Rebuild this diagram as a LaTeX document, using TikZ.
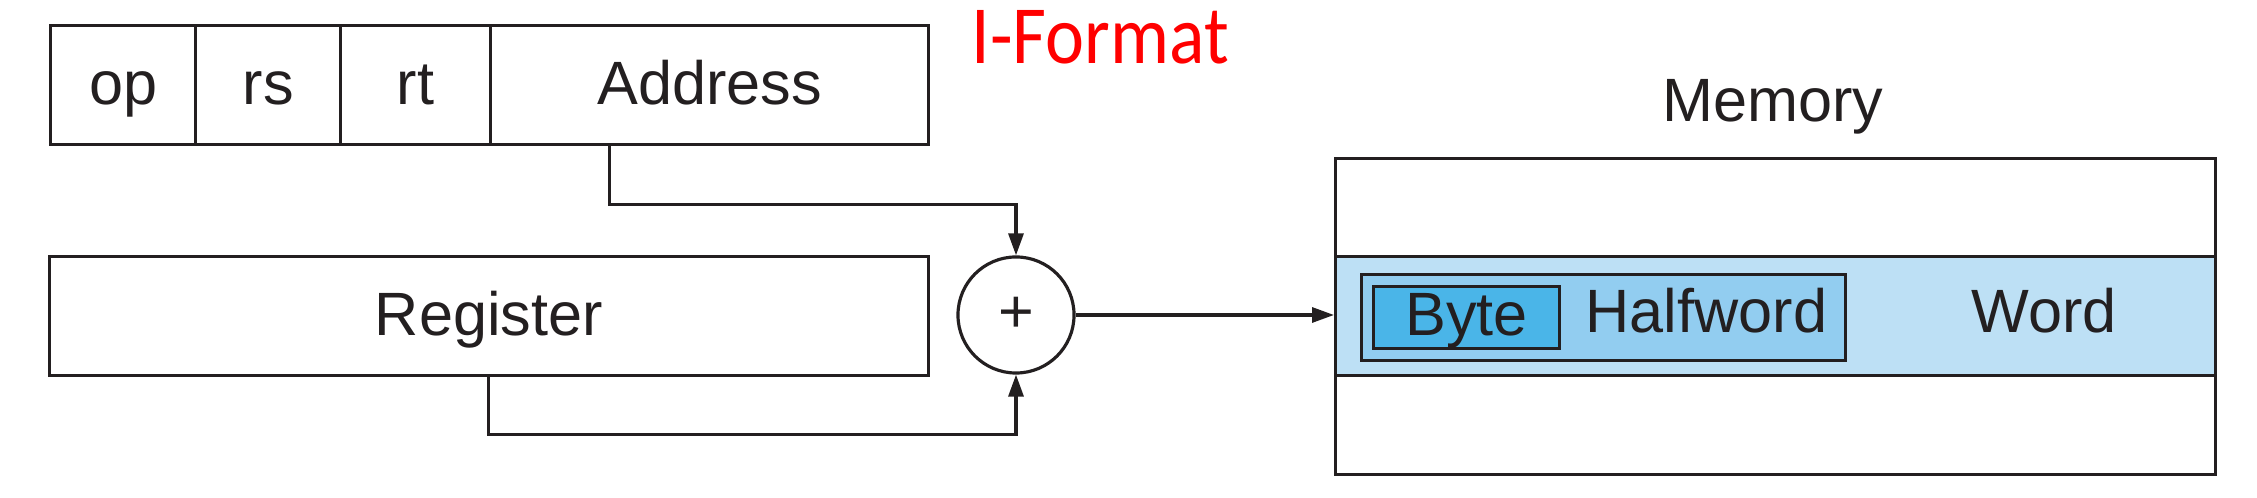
\documentclass[tikz,border=0pt]{standalone}
\usepackage{fontspec}
\setmainfont{Liberation Sans}
\newfontfamily\calibrifont{Carlito}
\usetikzlibrary{positioning,arrows.meta}
\definecolor{inkgray}{HTML}{231F20}
\definecolor{wordblue}{HTML}{BDE0F5}
\definecolor{halfblue}{HTML}{92CDF0}
\definecolor{byteblue}{HTML}{4AB5E8}

\begin{document}
\begin{tikzpicture}[x=0.01cm,y=-0.01cm,
  lbl/.style={text=inkgray,inner sep=0pt,font=\fontsize{17.4}{20}\selectfont},
  field/.style={lbl,draw=inkgray,line width=0.9pt,anchor=north west,
    minimum height=1.19cm,text height=0.44cm,text depth=0.06cm},
  wire/.style={draw=inkgray,line width=0.9pt},
  arr/.style={wire,-{Triangle[length=0.22cm,width=0.15cm]}}]
  \useasboundingbox (0,0) rectangle (2257,498);
  % instruction word
  \node[field,minimum width=1.45cm] (op) at (49,24){op};
  \node[field,minimum width=1.45cm] (rs) at (194,24){rs};
  \node[field,minimum width=1.50cm] (rt) at (339,24){rt};
  \node[field,minimum width=4.38cm] (addr) at (489,24){Address};
  \node[anchor=base west,inner sep=0pt,text=red,font=\calibrifont\fontsize{21}{24}\selectfont] (fmt) at (971,64){\scalebox{1}[1.12]{I-Format}};
  % register and adder
  \node[field,minimum width=8.78cm] (reg) at (48,255){Register};
  \node[lbl,draw=inkgray,line width=0.9pt,circle,minimum size=1.16cm] (adder) at (1016,315){+};
  % memory
  \node[lbl,anchor=base] (memlbl) at (1773,122){Memory};
  \node[field,minimum width=8.79cm,minimum height=0.98cm] (memtop) at (1334,157){};
  \node[field,fill=wordblue,minimum width=8.79cm] (memword) at (1334,255){};
  \node[field,minimum width=8.79cm,minimum height=0.99cm] (membot) at (1334,374){};
  \node[field,fill=halfblue,minimum width=4.84cm,minimum height=0.86cm] (half) at (1360,273){};
  \node[field,fill=byteblue,minimum width=1.86cm,minimum height=0.62cm,text depth=0.09cm] (byte) at (1372,285){Byte};
  \node[lbl,anchor=base west] (halflbl) at (1585,333){Halfword};
  \node[lbl,anchor=base] (wordlbl) at (2044,333){Word};
  % connectors
  \draw[arr] ([xshift=-1.0cm]addr.south) -- ++(0,58) -| (adder.north);
  \draw[arr] (reg.south) -- ++(0,57) -| (adder.south);
  \draw[arr] (adder.east) -- (adder.east -| memword.west);
\end{tikzpicture}
\end{document}
